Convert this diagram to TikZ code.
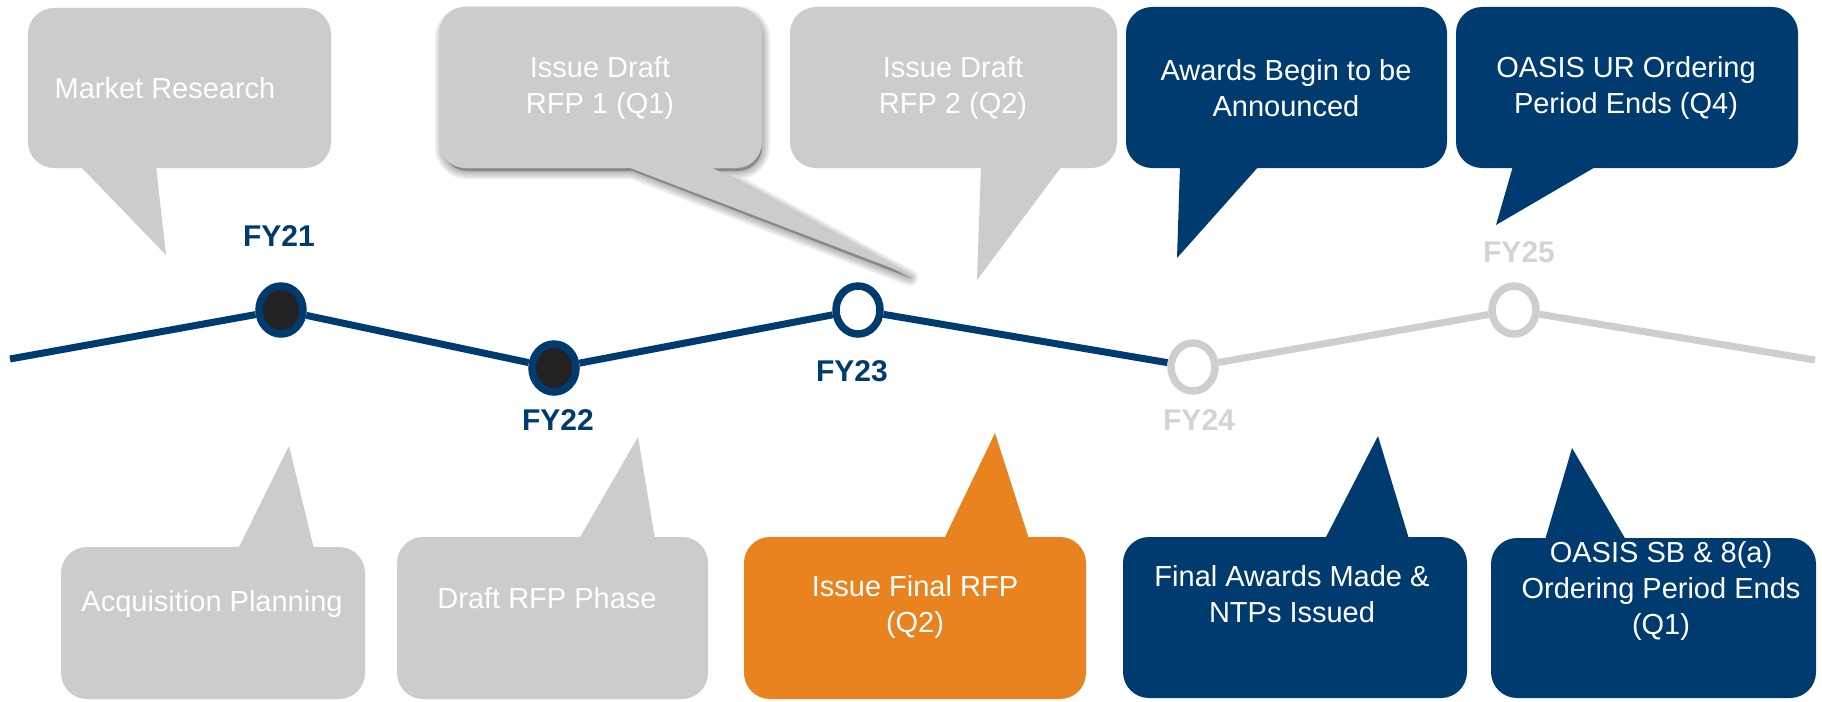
\documentclass[tikz,border=0pt]{standalone}
\usepackage{fontspec}
\setmainfont{Liberation Sans}
\usetikzlibrary{shapes.geometric}
\definecolor{navy}{RGB}{0,59,112}
\definecolor{cgray}{RGB}{204,204,204}
\definecolor{lgray}{RGB}{206,206,206}
\definecolor{fygray}{RGB}{212,212,212}
\definecolor{corange}{RGB}{232,131,32}
\definecolor{dark}{RGB}{34,34,34}
\begin{document}
\begin{tikzpicture}[x=1pt,y=-1pt,
  box/.style={rectangle, rounded corners=26pt, inner sep=0pt},
  txt/.style={text=white, align=center, font=\fontsize{29}{36}\selectfont, inner sep=0pt},
  fylab/.style={font=\fontsize{30}{36}\selectfont\bfseries, inner sep=0pt},
  ms/.style={ellipse, minimum width=44pt, minimum height=48pt, inner sep=0pt, line width=7.5pt},
  tline/.style={line width=7pt},
  shadfill/.style={fill=black, opacity=0.28},
  shadline/.style={draw=black, opacity=0.07, line join=round}
]
\useasboundingbox (0,0) rectangle (1822,701);
\fill[white] (0,0) rectangle (1822,701);

% ---------- top callouts ----------
% Market Research
\fill[cgray] (80,166) -- (166,255) -- (156,166) -- cycle;
\node[box, fill=cgray, minimum width=303pt, minimum height=160pt] (mrbox) at (179.5,88) {};
\node[txt] (mr) at (165,88) {Market Research};

% Issue Draft RFP 1 (with soft drop shadow)
\begin{scope}[shift={(2,5)}]
  \foreach \w in {16,12,8,4}{
    \path[shadline, line width=\w pt] [rounded corners=24pt] (441,9) rectangle (760,166) [sharp corners] (625,164) -- (908,273) -- (709,164) -- cycle;
  }
  \path[shadfill] [rounded corners=24pt] (441,9) rectangle (760,166) [sharp corners] (625,164) -- (908,273) -- (709,164) -- cycle;
\end{scope}
\fill[cgray] (625,166) -- (910,275) -- (709,166) -- cycle;
\node[box, fill=cgray, minimum width=323pt, minimum height=161pt] (d1box) at (600.5,87.5) {};
\node[txt] (d1) at (600,88) {Issue Draft\\RFP 1 (Q1)};

% Issue Draft RFP 2
\fill[cgray] (981,166) -- (977,280) -- (1062,166) -- cycle;
\node[box, fill=cgray, minimum width=327pt, minimum height=161pt] (d2box) at (953.5,87.5) {};
\node[txt] (d2) at (953,88) {Issue Draft\\RFP 2 (Q2)};

% Awards Begin
\fill[navy] (1180,166) -- (1177,258) -- (1259,166) -- cycle;
\node[box, fill=navy, minimum width=321pt, minimum height=161pt] (awbox) at (1286.5,87.5) {};
\node[txt] (aw) at (1286,88) {Awards Begin to be\\Announced};

% OASIS UR
\fill[navy] (1513,166) -- (1496,225) -- (1597,166) -- cycle;
\node[box, fill=navy, minimum width=342pt, minimum height=161pt] (urbox) at (1627,87.5) {};
\node[txt] (ur) at (1626,88) {OASIS UR Ordering\\Period Ends (Q4)};

% ---------- bottom callouts ----------
% Acquisition Planning
\fill[cgray] (238,549) -- (289,446) -- (314,549) -- cycle;
\node[box, fill=cgray, minimum width=304pt, minimum height=152pt] (apbox) at (213,623) {};
\node[txt] (ap) at (212,603.5) {Acquisition Planning};

% Draft RFP Phase
\fill[cgray] (579,539) -- (638,437) -- (655,539) -- cycle;
\node[box, fill=cgray, minimum width=311pt, minimum height=162pt] (drbox) at (552.5,618) {};
\node[txt] (dr) at (547,598.5) {Draft RFP Phase};

% Issue Final RFP
\fill[corange] (944,539) -- (995,433) -- (1029,539) -- cycle;
\node[box, fill=corange, minimum width=342pt, minimum height=162pt] (frbox) at (915,618) {};
\node[txt] (fr) at (915,606.5) {Issue Final RFP\\(Q2)};

% Final Awards
\fill[navy] (1325,539) -- (1378,436) -- (1409,539) -- cycle;
\node[box, fill=navy, minimum width=344pt, minimum height=161pt] (fabox) at (1295,617.5) {};
\node[txt] (fa) at (1292,594.5) {Final Awards Made \&\\NTPs Issued};

% OASIS SB
\fill[navy] (1545,540) -- (1572,448) -- (1626,540) -- cycle;
\node[box, fill=navy, minimum width=325pt, minimum height=160pt] (sbbox) at (1653.5,618) {};
\node[txt] (sb) at (1661,590.5) {OASIS SB \& 8(a)\\Ordering Period Ends\\(Q1)};

% ---------- timeline ----------
\coordinate (tstart) at (10,359);
\coordinate (tend) at (1815,360);
\node[ms] (fy21) at (281,310) {};
\node[ms] (fy22) at (554,368) {};
\node[ms] (fy23) at (858,310) {};
\node[ms] (fy24) at (1193,367) {};
\node[ms] (fy25) at (1514,310) {};

\draw[tline, navy] (tstart) -- (fy21) -- (fy22) -- (fy23) -- (fy24);
\draw[tline, lgray] (fy24) -- (fy25) -- (tend);

\node[ms, draw=navy, fill=dark] at (fy21) {};
\node[ms, draw=navy, fill=dark] at (fy22) {};
\node[ms, draw=navy, fill=white] at (fy23) {};
\node[ms, draw=lgray, fill=white] at (fy24) {};
\node[ms, draw=lgray, fill=white] at (fy25) {};

\node[fylab, text=navy] (l21) at (279,236) {FY21};
\node[fylab, text=navy] (l22) at (558,420) {FY22};
\node[fylab, text=navy] (l23) at (852,371) {FY23};
\node[fylab, text=fygray] (l24) at (1199,420) {FY24};
\node[fylab, text=fygray] (l25) at (1519,252) {FY25};
\end{tikzpicture}
\end{document}
